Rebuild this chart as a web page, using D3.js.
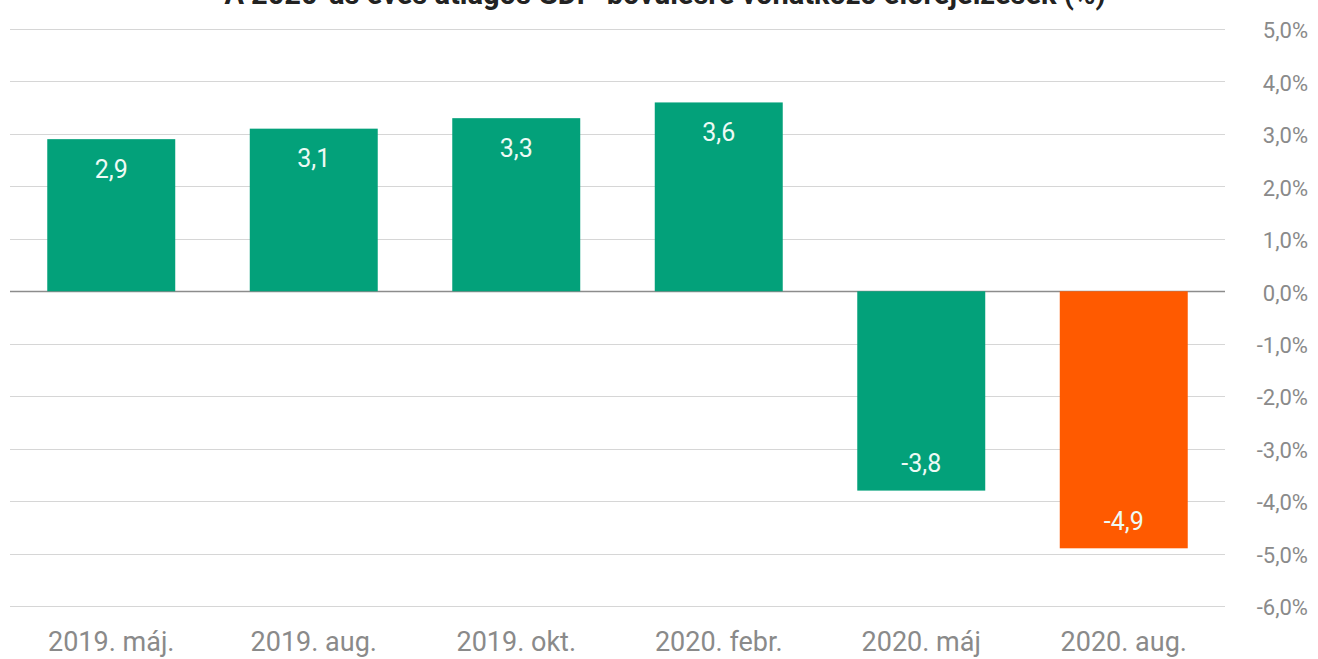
<!DOCTYPE html>
<html>
<head>
<meta charset="utf-8">
<script src="https://cdn.jsdelivr.net/npm/d3@7"></script>
<style>
  body { margin: 0; background: #fff; }
  svg { display: block; }
</style>
</head>
<body>
<div id="chart"></div>
<script>
// chart data
const categories = ["2019. máj.", "2019. aug.", "2019. okt.", "2020. febr.", "2020. máj", "2020. aug."];
const values = [2.9, 3.1, 3.3, 3.6, -3.8, -4.9];
const barColors = ["#03a17a", "#03a17a", "#03a17a", "#03a17a", "#03a17a", "#ff5a00"];
const yTicks = [5, 4, 3, 2, 1, 0, -1, -2, -3, -4, -5, -6];
const title = "A 2020-as éves átlagos GDP-bővülésre vonatkozó előrejelzések (%)";

const W = 1318, H = 659;
const fmt = v => v.toFixed(1).replace(".", ",");

const svg = d3.select("#chart").append("svg")
  .attr("width", W)
  .attr("height", H);

const x = d3.scaleBand().domain(categories).range([10, 1225]).paddingInner(0.368).paddingOuter(0.184);
const y = d3.scaleLinear().domain([-6, 5]).range([606, 29]);

// title, cut by the top edge as in the source image
svg.append("text")
  .attr("x", 665)
  .attr("y", 4)
  .attr("text-anchor", "middle")
  .attr("font-family", "Roboto, sans-serif")
  .attr("font-weight", "bold")
  .attr("font-size", "29px")
  .attr("fill", "#222")
  .text(title);

// gridlines
svg.append("g")
  .selectAll("line")
  .data(yTicks)
  .join("line")
  .attr("x1", 10)
  .attr("x2", 1225)
  .attr("y1", d => Math.round(y(d)) + 0.5)
  .attr("y2", d => Math.round(y(d)) + 0.5)
  .attr("stroke", d => d === 0 ? "#8c8c8c" : "#d6d6d6")
  .attr("stroke-width", d => d === 0 ? 1.5 : 1);

// y axis on the right
const yAxis = svg.append("g")
  .attr("transform", "translate(1308,0)")
  .call(d3.axisLeft(y).tickValues(yTicks).tickSize(0).tickPadding(0).tickFormat(d => fmt(d) + "%"));
yAxis.select(".domain").remove();
yAxis.selectAll("text")
  .attr("dy", "0.4em")
  .attr("font-family", "Roboto, sans-serif")
  .attr("font-size", "22px")
  .attr("fill", "#8a8a8a");

// x axis labels
const xAxis = svg.append("g")
  .attr("transform", "translate(0,624)")
  .call(d3.axisBottom(x).tickSize(0).tickPadding(0));
xAxis.select(".domain").remove();
xAxis.selectAll("text")
  .attr("y", 27)
  .attr("dy", 0)
  .attr("font-family", "Roboto, sans-serif")
  .attr("font-size", "27px")
  .attr("fill", "#8a8a8a");

// bars
svg.append("g")
  .selectAll("rect")
  .data(values)
  .join("rect")
  .attr("x", (d, i) => x(categories[i]))
  .attr("width", x.bandwidth())
  .attr("y", d => y(Math.max(0, d)))
  .attr("height", d => Math.abs(y(d) - y(0)))
  .attr("fill", (d, i) => barColors[i]);

// value labels inside the bar ends
svg.append("g")
  .selectAll("text")
  .data(values)
  .join("text")
  .attr("x", (d, i) => x(categories[i]) + x.bandwidth() / 2)
  .attr("y", d => d >= 0 ? y(d) + 30 : y(d) - 27)
  .attr("dy", "0.35em")
  .attr("text-anchor", "middle")
  .attr("font-family", "Roboto, sans-serif")
  .attr("font-size", "25px")
  .attr("fill", "#eefaf5")
  .text(d => fmt(d));
</script>
</body>
</html>
